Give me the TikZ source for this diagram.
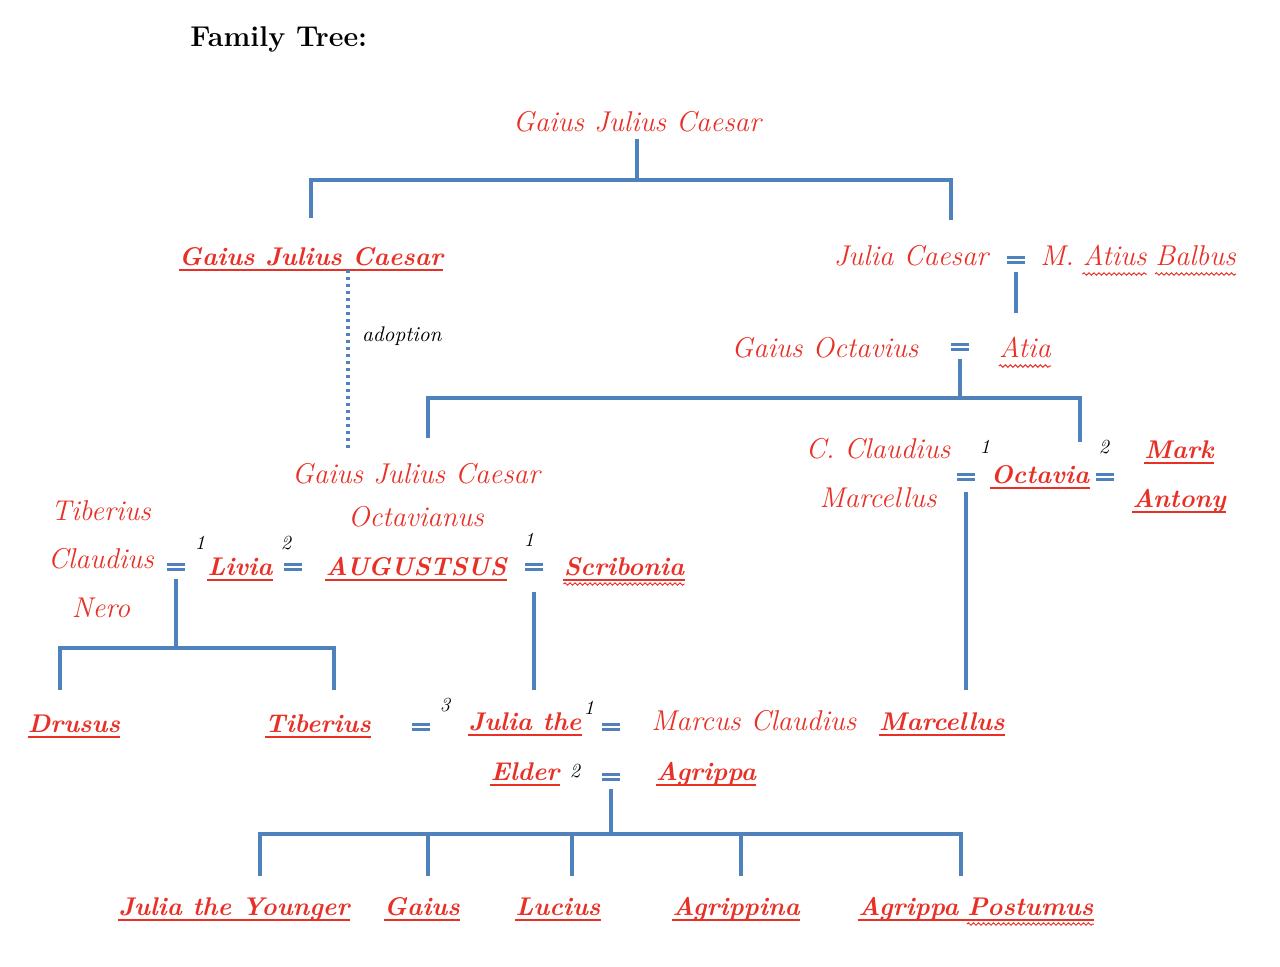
\documentclass[tikz,border=0pt]{standalone}
\usepackage{xcolor}
\usepackage{tikz}
\usetikzlibrary{positioning,decorations.pathmorphing}
\definecolor{kinred}{RGB}{232,48,38}
\definecolor{kinblue}{RGB}{79,129,189}

\begin{document}
\begin{tikzpicture}[x=0.5pt, y=-0.5pt,
    headline/.style={font=\fontsize{14.3}{17}\selectfont\bfseries, inner sep=0pt, anchor=base west},
    person/.style={text=kinred, font=\fontsize{14.3}{17}\selectfont\itshape, inner xsep=0pt, anchor=base},
    heir/.style={text=kinred, font=\fontsize{12.8}{15}\selectfont\bfseries\itshape, inner xsep=0pt, anchor=base},
    wed/.style={minimum width=9pt, minimum height=4.6pt, inner sep=0pt,
        path picture={\draw[kinblue, line width=1.4pt]
            ([yshift=1.2pt]path picture bounding box.west) -- ([yshift=1.2pt]path picture bounding box.east)
            ([yshift=-1.2pt]path picture bounding box.west) -- ([yshift=-1.2pt]path picture bounding box.east);}},
    ord/.style={font=\fontsize{10}{10}\selectfont\itshape, inner sep=0pt},
    note/.style={font=\fontsize{10.6}{12}\selectfont\itshape, inner sep=0pt},
    branch/.style={draw=kinblue, line width=2pt},
    adopt/.style={draw=kinblue, line width=2pt, dash pattern=on 1.5pt off 2pt},
    uline/.style={draw=kinred, line width=1pt},
    squig/.style={draw=kinred, line width=0.5pt, decorate, decoration={snake, amplitude=0.6pt, segment length=2.5pt}}]

    \useasboundingbox (0,0) rectangle (1280,966);

    \node[headline] (title) at (190,46) {Family Tree:};

    \node[person] (gjcA) at (637,131) {Gaius Julius Caesar};
    \node[heir] (gjcB) at (311,265) {Gaius Julius Caesar};
    \node[person] (julia) at (911,265) {Julia Caesar};
    \node[wed] (eqJB) at (1016,260) {};
    \node[person, anchor=base west] (balbusM) at (1040,265) {M.};
    \node[person, base right=4pt of balbusM] (atius) {Atius};
    \node[person, base right=4pt of atius] (balbus) {Balbus};

    \node[person] (octavius) at (825,357) {Gaius Octavius};
    \node[wed] (eqOA) at (960,347) {};
    \node[person] (atia) at (1025,357) {Atia};

    \node[person] (gjcC) at (416,483) {Gaius Julius Caesar};
    \node[person] (octavianus) at (416,526) {Octavianus};
    \node[heir] (augustus) at (416,575) {AUGUSTSUS};
    \node[person] (tcn1) at (101,520) {Tiberius};
    \node[person] (tcn2) at (101,568) {Claudius};
    \node[person] (tcn3) at (101,617) {Nero};
    \node[wed] (eqTL) at (176,567) {};
    \node[ord] (o1) at (200,543) {1};
    \node[heir] (livia) at (240,575) {Livia};
    \node[ord] (o2) at (286,543) {2};
    \node[wed] (eqLA) at (293,567) {};
    \node[ord] (o3) at (529,540) {1};
    \node[wed] (eqAS) at (534,567) {};
    \node[heir] (scribonia) at (624,575) {Scribonia};

    \node[person] (claudius) at (878,458) {C. Claudius};
    \node[person] (marcellusC) at (878,507) {Marcellus};
    \node[ord] (o4) at (985,447) {1};
    \node[wed] (eqCO) at (966,477) {};
    \node[heir] (octavia) at (1040,483) {Octavia};
    \node[ord] (o5) at (1104,447) {2};
    \node[wed] (eqOM) at (1105,477) {};
    \node[heir] (mark) at (1179,458) {Mark};
    \node[heir] (antony) at (1179,507) {Antony};

    \node[heir] (drusus) at (74,732) {Drusus};
    \node[heir] (tiberius) at (318,732) {Tiberius};
    \node[wed] (eqTJ) at (421,727) {};
    \node[ord] (o6) at (445,705) {3};
    \node[heir] (juliaA) at (525,730) {Julia the};
    \node[ord] (o7) at (589,708) {1};
    \node[wed] (eqJM) at (611,727) {};
    \node[person, anchor=base west] (marcus) at (651,730) {Marcus Claudius};
    \node[heir, anchor=base east] (marcellus) at (1005,730) {Marcellus};
    \node[heir] (elder) at (525,780) {Elder};
    \node[ord] (o8) at (575,771) {2};
    \node[wed] (eqJA) at (611,777) {};
    \node[heir] (agrippa) at (706,780) {Agrippa};

    \node[heir] (kid1) at (234,915) {Julia the Younger};
    \node[heir] (kid2) at (422,915) {Gaius};
    \node[heir] (kid3) at (558,915) {Lucius};
    \node[heir] (kid4) at (736,915) {Agrippina};
    \node[heir, anchor=base west] (kid5) at (858,915) {Agrippa};
    \node[heir, base right=4pt of kid5] (kid5b) {Postumus};

    \foreach \n in {gjcB,augustus,livia,scribonia,octavia,mark,antony,drusus,tiberius,juliaA,elder,marcellus,agrippa,kid1,kid2,kid3,kid4}
        \draw[uline] ([yshift=-2.5pt]\n.base west) -- ([yshift=-2.5pt]\n.base east);
    \draw[uline] ([yshift=-2.5pt]kid5.base west) -- ([yshift=-2.5pt]kid5b.base east);
    \foreach \n in {atius,balbus,atia,scribonia,kid5b}
        \draw[squig] ([yshift=-4.5pt]\n.base west) -- ([yshift=-4.5pt]\n.base east);

    \coordinate (f1) at (637,180);
    \coordinate (f1l) at (311,218);
    \coordinate (f1r) at (951,220);
    \draw[branch] (gjcA.south) -- (f1);
    \draw[branch] (f1l) |- (f1) -| (f1r);

    \draw[branch, shorten <=3.5pt] (eqJB) -- ++(0,53);

    \coordinate (f3) at (960,398);
    \coordinate (f3l) at (428,438);
    \coordinate (f3r) at (1080,442);
    \draw[branch, shorten <=3.5pt] (eqOA) -- (f3);
    \draw[branch] (f3l) |- (f3) -| (f3r);

    \coordinate (ad1) at (348,270);
    \coordinate (ad2) at (348,450);
    \draw[adopt] (ad1) -- node[note, pos=0.37, right=6pt] (adlabel) {adoption} (ad2);

    \coordinate (f4) at (176,648);
    \coordinate (f4l) at (60,690);
    \coordinate (f4r) at (334,690);
    \draw[branch, shorten <=3.5pt] (eqTL) -- (f4);
    \draw[branch] (f4l) |- (f4) -| (f4r);

    \coordinate (f5) at (534,690);
    \draw[branch, shorten <=10pt] (eqAS) -- (f5);

    \coordinate (f6) at (966,690);
    \draw[branch, shorten <=5pt] (eqCO) -- (f6);

    \coordinate (f7) at (611,834);
    \draw[branch, shorten <=3.5pt] (eqJA) -- (f7);
    \foreach \x [count=\i] in {260,428,572,741,961}
        \coordinate (k\i) at (\x,876);
    \draw[branch] (k1) |- (f7) -| (k5);
    \foreach \i in {2,3,4}
        \draw[branch] (k\i) -- (k\i |- f7);
\end{tikzpicture}
\end{document}
